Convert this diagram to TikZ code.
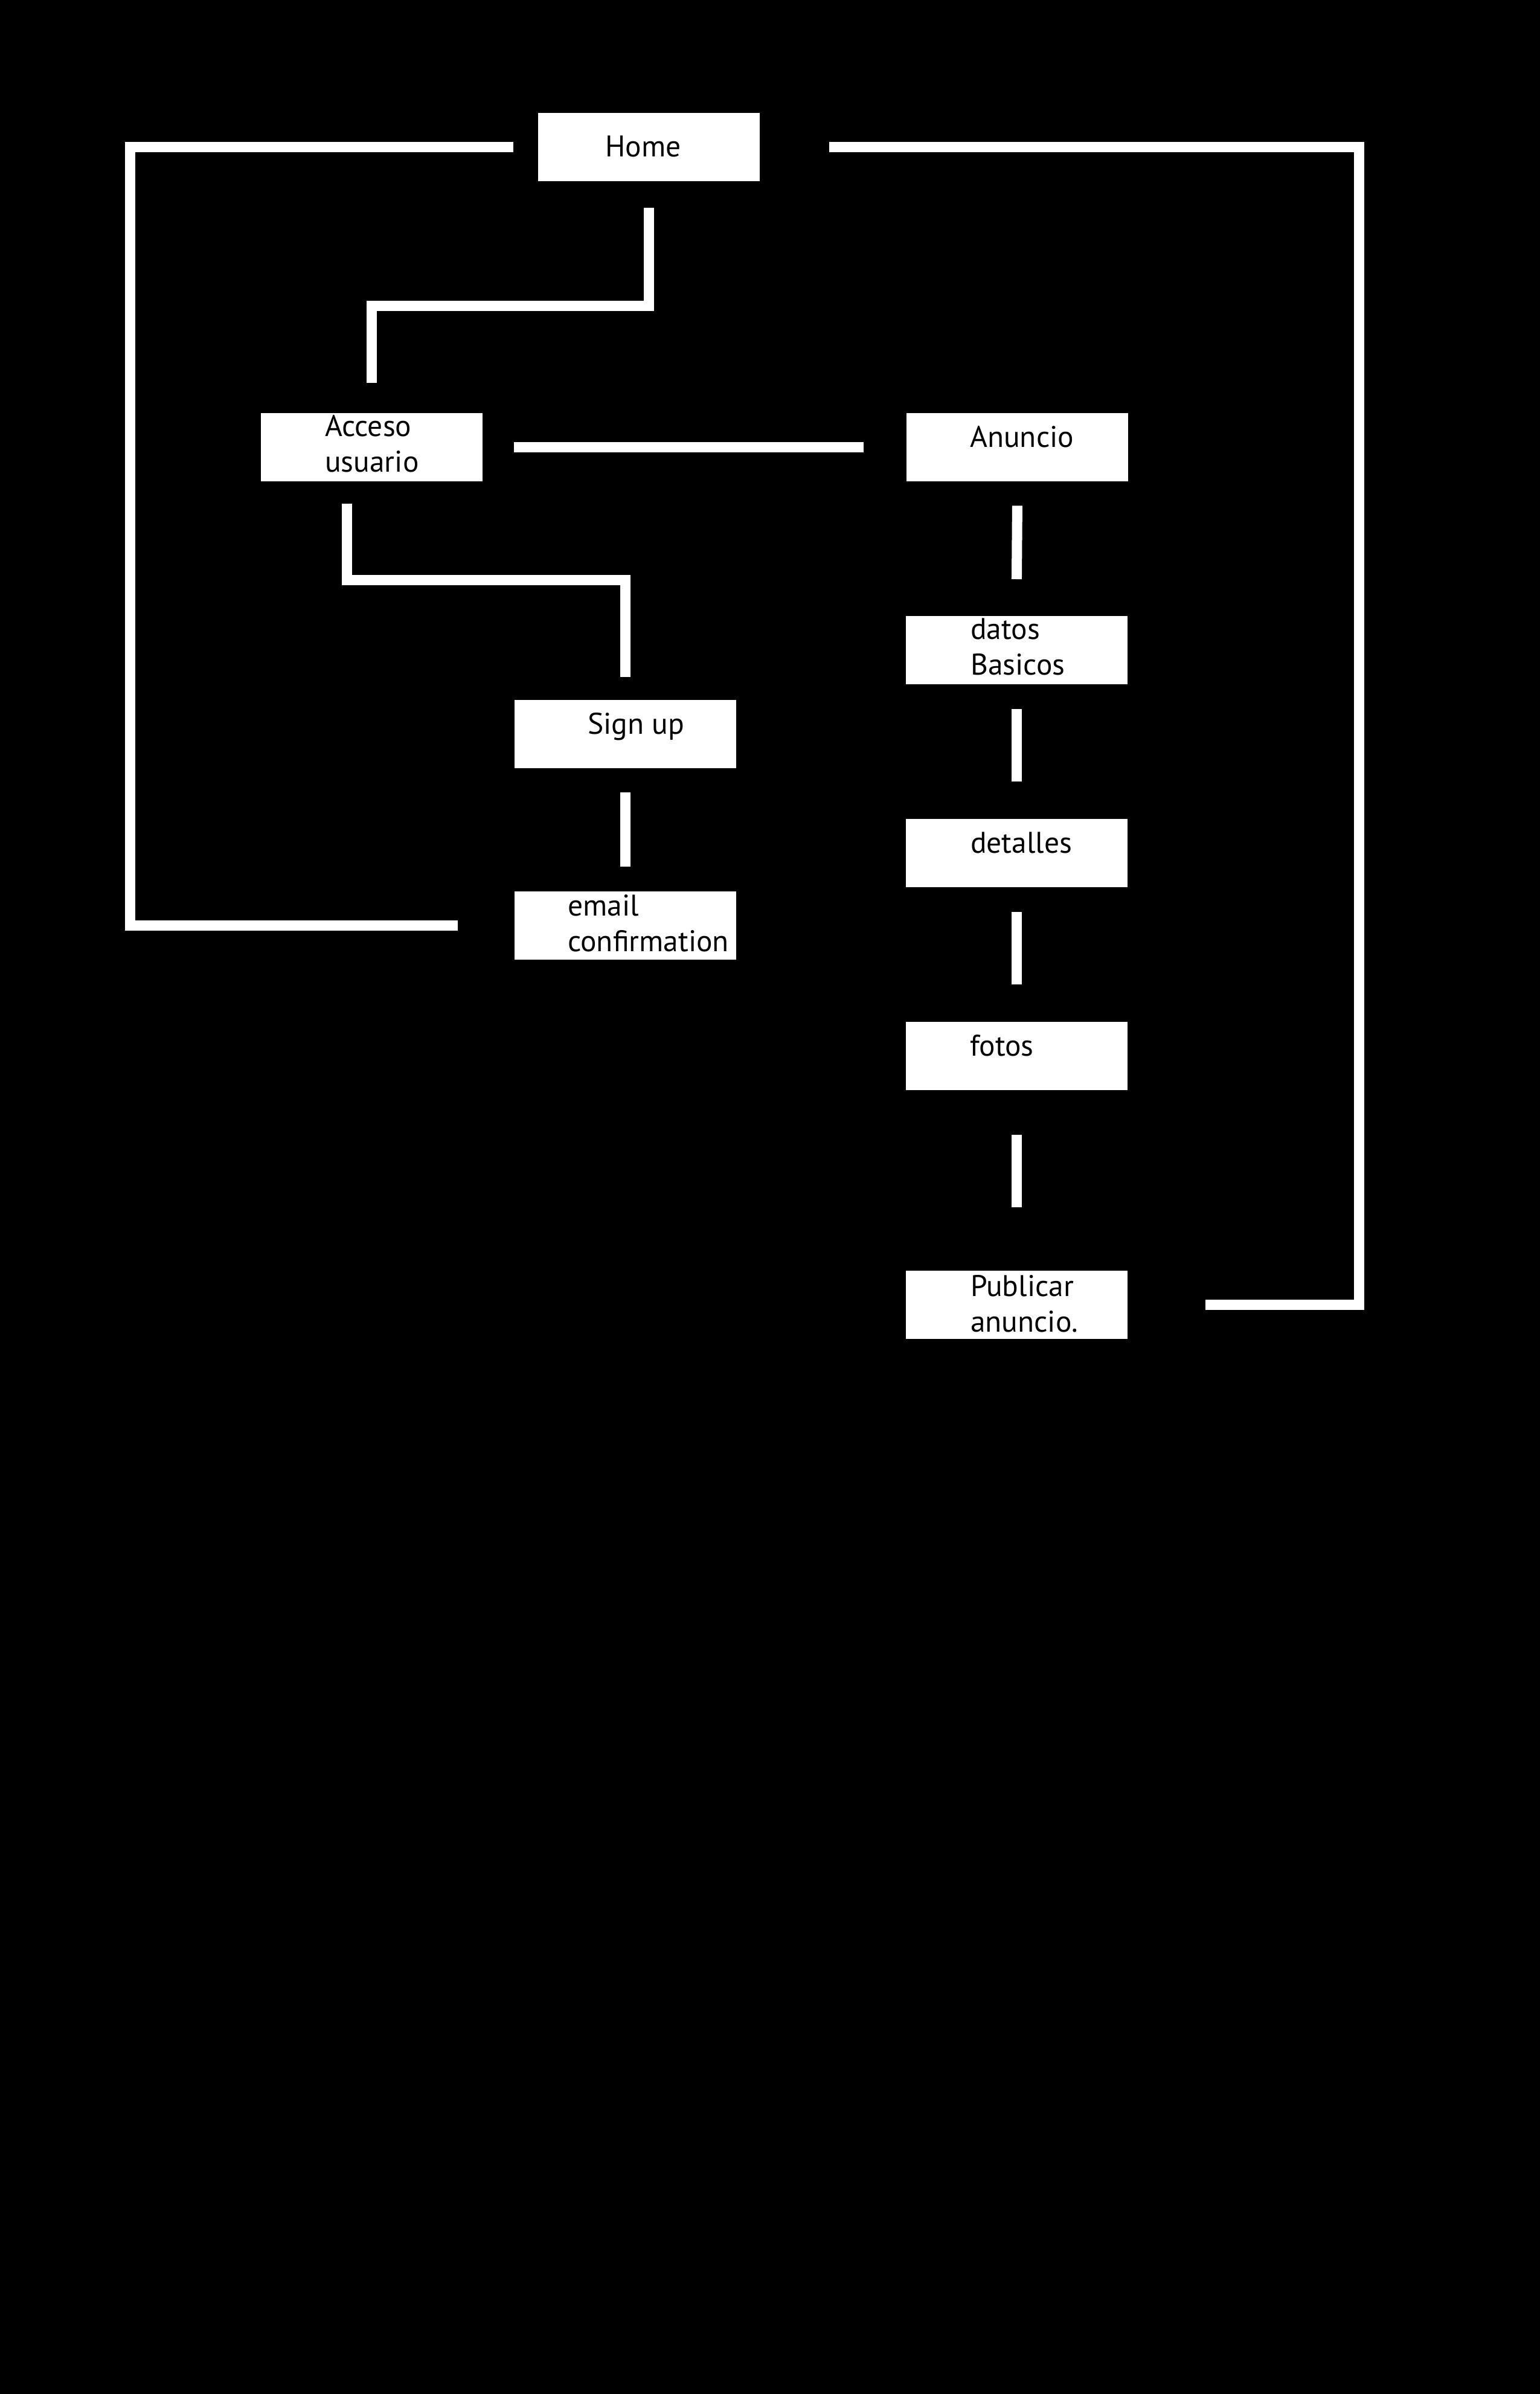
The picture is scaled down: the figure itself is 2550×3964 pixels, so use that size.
\documentclass[tikz,border=0pt]{standalone}
\usepackage{fontspec}
\setmainfont{PT Sans}
\newcommand\twoln[2]{\vtop{\hbox{#1}\hbox{#2}}}
\begin{document}
\begin{tikzpicture}[x=1pt,y=-1pt,
  box/.style={fill=white, draw=none, inner sep=0pt, minimum width=366.5pt, minimum height=113pt, anchor=north west},
  lbl/.style={anchor=base west, inner sep=0pt, text=black, font=\fontsize{49.5pt}{59pt}\selectfont},
  conn/.style={draw=white, line width=17pt}]
\fill[black] (0,0) rectangle (2550,3964);
\useasboundingbox (0,0) rectangle (2550,3964);

% boxes
\node[box] (home)  at (891,187) {};
\node[box] (acc)   at (432,684) {};
\node[box] (anun)  at (1501,684) {};
\node[box] (sign)  at (852,1159) {};
\node[box] (email) at (852,1476) {};
\node[box] (datos) at (1500,1020) {};
\node[box] (det)   at (1500,1356) {};
\node[box] (fotos) at (1500,1692) {};
\node[box] (publ)  at (1500,2103.5) {};

% labels
\node[lbl] (home-t)  at ([xshift=111pt,yshift=-72pt]home.north west) {Home};
\node[lbl] (acc-t)   at ([xshift=106pt,yshift=-38.7pt]acc.north west) {\twoln{Acceso}{usuario}};
\node[lbl] (anun-t)  at ([xshift=105pt,yshift=-56.7pt]anun.north west) {Anuncio};
\node[lbl] (sign-t)  at ([xshift=121pt,yshift=-56pt]sign.north west) {Sign up};
\node[lbl] (email-t) at ([xshift=88pt,yshift=-40pt]email.north west) {\twoln{email}{confirmation}};
\node[lbl] (datos-t) at ([xshift=107pt,yshift=-38pt]datos.north west) {\twoln{datos}{Basicos}};
\node[lbl] (det-t)   at ([xshift=107pt,yshift=-56pt]det.north west) {detalles};
\node[lbl] (fotos-t) at ([xshift=106pt,yshift=-56pt]fotos.north west) {fotos};
\node[lbl] (publ-t)  at ([xshift=107pt,yshift=-43pt]publ.north west) {\twoln{Publicar}{anuncio.}};

% helper coordinates
\coordinate (lft) at (215.5,900);
\coordinate (rgt) at (2250.5,1200);
\coordinate (k1)  at (800,506.5);
\coordinate (k2)  at (800,960.5);
\coordinate (a1)  at ([xshift=-40.5pt,yshift=-37pt]acc.south);

% connectors
\draw[conn] ([xshift=-41pt]home.west) -| (lft) |- ([xshift=-94pt]email.west);
\draw[conn] ([xshift=115pt]home.east) -| (rgt) |- ([xshift=129pt]publ.east);
\draw[conn] ([yshift=-44pt]home.south) -- (home.south |- k1) -| ([yshift=50pt]acc.north);
\draw[conn] ([xshift=52pt]acc.east) -- ([xshift=-71pt]anun.west);
\draw[conn] (a1) -- (a1 |- k2) -| ([yshift=38pt]sign.north);
\draw[conn] ([yshift=-40pt]sign.south) -- ([yshift=41pt]email.north);
\draw[conn] ([yshift=-40pt]anun.south) -- ([yshift=61pt]datos.north);
\draw[conn] ([yshift=-41pt]datos.south) -- ([yshift=62pt]det.north);
\draw[conn] ([yshift=-41pt]det.south) -- ([yshift=62pt]fotos.north);
\draw[conn] ([yshift=-74pt]fotos.south) -- ([yshift=104.5pt]publ.north);
\end{tikzpicture}
\end{document}
